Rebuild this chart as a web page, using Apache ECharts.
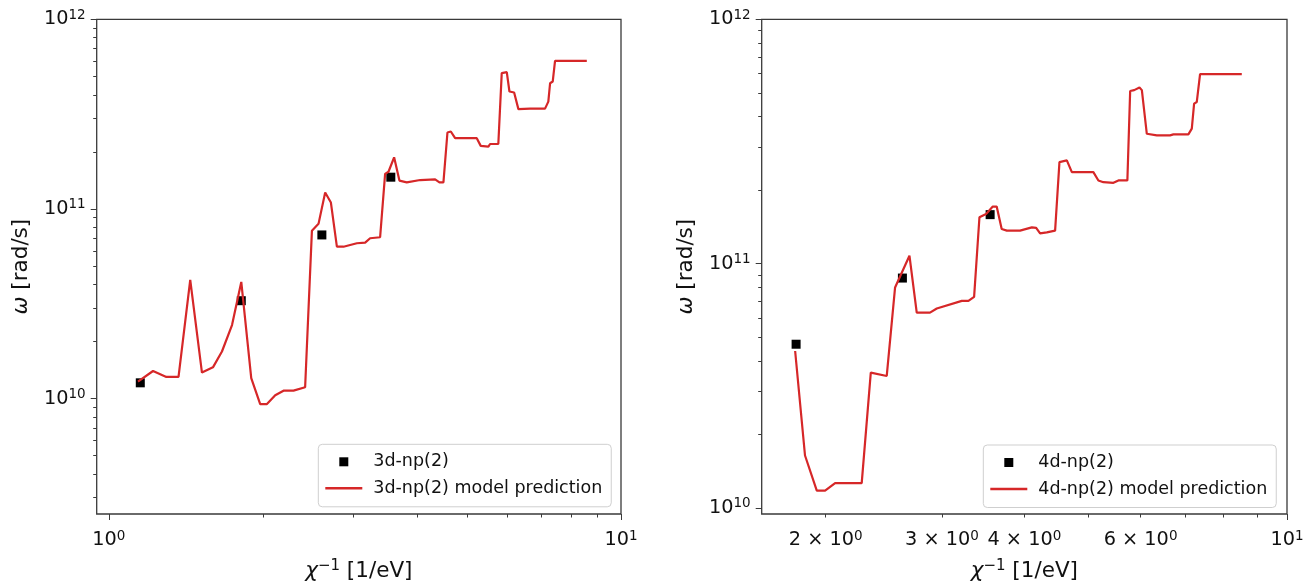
<!DOCTYPE html>
<html><head><meta charset="utf-8">
<script src="https://cdn.jsdelivr.net/npm/echarts@6/dist/echarts.min.js"></script>
<style>html,body{margin:0;padding:0;background:#fff}#c{width:1313px;height:586px}</style>
</head><body><div id="c"></div>
<script>
// ---------- DATA ----------
// Left panel: 3d-np(2)
const leftCurveX = [1.140, 1.220, 1.295, 1.368, 1.442, 1.520, 1.597, 1.663, 1.740, 1.814, 1.897, 1.975, 2.036, 2.113, 2.193, 2.294, 2.417, 2.492, 2.567, 2.645, 2.714, 2.788, 2.872, 3.050, 3.166, 3.237, 3.386, 3.463, 3.516, 3.606, 3.693, 3.817, 4.054, 4.336, 4.421, 4.501, 4.583, 4.653, 4.744, 5.229, 5.323, 5.509, 5.551, 5.761, 5.850, 5.984, 6.056, 6.185, 6.305, 6.645, 7.107, 7.213, 7.270, 7.358, 7.434, 8.575];
const leftCurveY = [1.227e10, 1.397e10, 1.30e10, 1.30e10, 4.22e10, 1.37e10, 1.46e10, 1.77e10, 2.44e10, 4.12e10, 1.28e10, 9.35e9, 9.35e9, 1.04e10, 1.10e10, 1.10e10, 1.146e10, 7.68e10, 8.34e10, 1.22e11, 1.08e11, 6.32e10, 6.32e10, 6.59e10, 6.64e10, 7.00e10, 7.09e10, 1.53e11, 1.57e11, 1.87e11, 1.41e11, 1.38e11, 1.42e11, 1.43e11, 1.38e11, 1.38e11, 2.53e11, 2.56e11, 2.36e11, 2.36e11, 2.15e11, 2.13e11, 2.20e11, 2.20e11, 5.20e11, 5.26e11, 4.16e11, 4.11e11, 3.36e11, 3.38e11, 3.38e11, 3.68e11, 4.60e11, 4.70e11, 6.04e11, 6.04e11];
const leftPointsX = [1.152, 1.814, 2.606, 3.553];
const leftPointsY = [1.21e10, 3.28e10, 7.29e10, 1.47e11];

// Right panel: 4d-np(2)
const rightCurveX = [1.798, 1.861, 1.939, 1.996, 2.067, 2.268, 2.341, 2.475, 2.548, 2.679, 2.748, 2.878, 2.947, 3.216, 3.291, 3.357, 3.420, 3.500, 3.583, 3.632, 3.696, 3.763, 3.940, 4.106, 4.168, 4.226, 4.326, 4.453, 4.521, 4.639, 4.721, 5.089, 5.179, 5.270, 5.458, 5.554, 5.730, 5.786, 5.868, 5.977, 6.027, 6.132, 6.350, 6.650, 6.728, 7.089, 7.174, 7.232, 7.300, 7.384, 8.541];
const rightCurveY = [4.39e10, 1.64e10, 1.177e10, 1.177e10, 1.264e10, 1.264e10, 3.58e10, 3.47e10, 7.99e10, 1.078e11, 6.30e10, 6.30e10, 6.55e10, 7.04e10, 7.04e10, 7.31e10, 1.548e11, 1.598e11, 1.712e11, 1.712e11, 1.387e11, 1.365e11, 1.365e11, 1.408e11, 1.40e11, 1.33e11, 1.343e11, 1.365e11, 2.603e11, 2.645e11, 2.368e11, 2.368e11, 2.19e11, 2.154e11, 2.142e11, 2.19e11, 2.19e11, 5.09e11, 5.13e11, 5.26e11, 5.13e11, 3.40e11, 3.35e11, 3.35e11, 3.38e11, 3.38e11, 3.57e11, 4.52e11, 4.59e11, 5.96e11, 5.96e11];
const rightPointsX = [1.804, 2.614, 3.550];
const rightPointsY = [4.68e10, 8.73e10, 1.587e11];

// Series names
const leftPointsName = '3d-np(2)';
const leftCurveName = '3d-np(2) model prediction';
const rightPointsName = '4d-np(2)';
const rightCurveName = '4d-np(2) model prediction';

// Axis ranges
const leftXRange = [0.947, 10];
const leftYRange = [2.46e9, 1e12];
const rightXRange = [1.60, 10];
const rightYRange = [9.45e9, 1e12];

// Ticks and tick labels
const leftXMajorTicks = [1, 10];
const leftXMinorTicks = [2, 3, 4, 5, 6, 7, 8, 9];
const rightXMajorTicks = [10];
const rightXMinorTicks = [2, 3, 4, 5, 6, 7, 8, 9];
const rightXMinorLabels = [2, 3, 4, 6];
const yMajorTicks = [1e10, 1e11, 1e12];
const leftYMinorTicks = [3e9, 4e9, 5e9, 6e9, 7e9, 8e9, 9e9, 2e10, 3e10, 4e10, 5e10, 6e10, 7e10, 8e10, 9e10, 2e11, 3e11, 4e11, 5e11, 6e11, 7e11, 8e11, 9e11];
const rightYMinorTicks = [2e10, 3e10, 4e10, 5e10, 6e10, 7e10, 8e10, 9e10, 2e11, 3e11, 4e11, 5e11, 6e11, 7e11, 8e11, 9e11];

// ---------- STYLE ----------
const FONT = 'DejaVu Sans';
const FS = 17.5;      // legend
const FT = 19.3;      // tick labels
const FN = 21.5;      // axis names
const TXT = '#111';
const AX = '#3a3a3a';
const RED = '#d62728';
const lg = Math.log10;

const richLabel = {
  b: {fontFamily: FONT, fontSize: FT, color: TXT, lineHeight: 22},
  s: {fontFamily: FONT, fontSize: 13.5, color: TXT, lineHeight: 13, verticalAlign: 'top'}
};
const richName = {
  n: {fontFamily: FONT, fontSize: FN, color: TXT, lineHeight: 25},
  i: {fontFamily: FONT, fontSize: FN, color: TXT, fontStyle: 'italic', lineHeight: 25},
  s: {fontFamily: FONT, fontSize: 15, color: TXT, lineHeight: 15, verticalAlign: 'top'}
};

function logLabel(v) {
  const e = Math.floor(v + 1e-9);
  const m = Math.round(Math.pow(10, v - e));
  if (m === 1) return '{b|10}{s|' + e + '}';
  return '{b|' + m + ' × 10}{s|' + e + '}';
}

function dataAxis(gi, range) {
  return {type: 'log', logBase: 10, gridIndex: gi, min: range[0], max: range[1], show: false};
}
function tickAxis(gi, dim, range, ticks, labels, len, extra) {
  const a = {
    type: 'value', gridIndex: gi,
    position: dim === 'x' ? 'bottom' : 'left', offset: 0,
    min: lg(range[0]), max: lg(range[1]),
    axisLine: {show: false, onZero: false},
    splitLine: {show: false},
    axisTick: {show: true, inside: false, length: len, customValues: ticks.map(lg), lineStyle: {color: AX, width: 1}},
    axisLabel: labels && labels.length ? {
      show: true, customValues: labels.map(lg), formatter: logLabel, rich: richLabel,
      margin: dim === 'x' ? 15 : 11, color: TXT
    } : {show: false}
  };
  return Object.assign(a, extra || {});
}

const xName = {name: '{i|χ}{s|−1}{n| [1/eV]}', nameLocation: 'middle', nameGap: 45, nameTextStyle: {rich: richName}};
const yName = {name: '{i|ω}{n| [rad/s]}', nameLocation: 'middle', nameGap: 63, nameTextStyle: {rich: richName}};

const pairs = (xs, ys) => xs.map((x, i) => [x, ys[i]]);

const legendCommon = {
  orient: 'vertical', padding: [7.5, 9, 8.5, 7], itemWidth: 37, itemHeight: 9, itemGap: 6.5,
  borderColor: '#cfcfcf', borderWidth: 1, borderRadius: 4, backgroundColor: '#fff',
  selectedMode: false,
  textStyle: {fontFamily: FONT, fontSize: FS, color: TXT, lineHeight: 20, padding: [0, 0, 0, 6]}
};
const SQ = 'path://M0,0H9V9H0Z';
const LN = 'path://M0,0H37V2.5H0Z';

const option = {
  animation: false,
  backgroundColor: '#fff',
  grid: [
    {left: 96.7, top: 19.3, width: 524.3, height: 494.7, show: true, borderColor: AX, borderWidth: 1.3, containLabel: false, outerBoundsMode: 'none'},
    {left: 761.7, top: 19.3, width: 525.3, height: 494.7, show: true, borderColor: AX, borderWidth: 1.3, containLabel: false, outerBoundsMode: 'none'}
  ],
  xAxis: [
    dataAxis(0, leftXRange),
    tickAxis(0, 'x', leftXRange, leftXMajorTicks, leftXMajorTicks, 6, xName),
    tickAxis(0, 'x', leftXRange, leftXMinorTicks, null, 3.5),
    dataAxis(1, rightXRange),
    tickAxis(1, 'x', rightXRange, rightXMajorTicks, rightXMajorTicks, 6, xName),
    tickAxis(1, 'x', rightXRange, rightXMinorTicks, rightXMinorLabels, 3.5)
  ],
  yAxis: [
    dataAxis(0, leftYRange),
    tickAxis(0, 'y', leftYRange, yMajorTicks, yMajorTicks, 6, yName),
    tickAxis(0, 'y', leftYRange, leftYMinorTicks, null, 3.5),
    dataAxis(1, rightYRange),
    tickAxis(1, 'y', rightYRange, yMajorTicks, yMajorTicks, 6, yName),
    tickAxis(1, 'y', rightYRange, rightYMinorTicks, null, 3.5)
  ],
  legend: [
    Object.assign({}, legendCommon, {left: 318.3, top: 444.3,
      data: [{name: leftPointsName, icon: SQ}, {name: leftCurveName, icon: LN}]}),
    Object.assign({}, legendCommon, {left: 983.3, top: 445,
      data: [{name: rightPointsName, icon: SQ}, {name: rightCurveName, icon: LN}]})
  ],
  series: [
    {name: leftPointsName, type: 'scatter', xAxisIndex: 0, yAxisIndex: 0, symbol: 'rect', symbolSize: 9,
      itemStyle: {color: '#000', opacity: 1}, data: pairs(leftPointsX, leftPointsY)},
    {name: leftCurveName, type: 'line', xAxisIndex: 0, yAxisIndex: 0, symbol: 'none', showSymbol: false,
      itemStyle: {color: RED}, lineStyle: {color: RED, width: 2.2}, data: pairs(leftCurveX, leftCurveY)},
    {name: rightPointsName, type: 'scatter', xAxisIndex: 3, yAxisIndex: 3, symbol: 'rect', symbolSize: 9,
      itemStyle: {color: '#000', opacity: 1}, data: pairs(rightPointsX, rightPointsY)},
    {name: rightCurveName, type: 'line', xAxisIndex: 3, yAxisIndex: 3, symbol: 'none', showSymbol: false,
      itemStyle: {color: RED}, lineStyle: {color: RED, width: 2.2}, data: pairs(rightCurveX, rightCurveY)}
  ]
};

const chart = echarts.init(document.getElementById('c'), null, {renderer: 'canvas'});
chart.setOption(option);
</script>
</body></html>
